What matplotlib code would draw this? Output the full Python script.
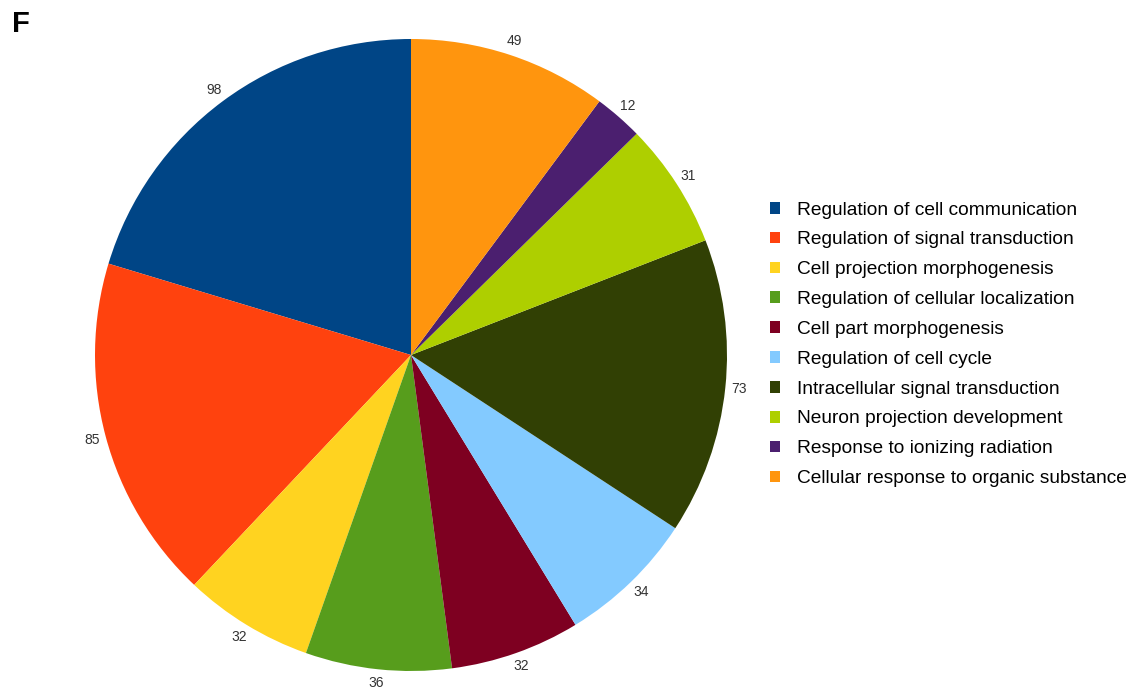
import numpy as np
import matplotlib.pyplot as plt

plt.rcParams['font.family'] = ['Liberation Sans', 'DejaVu Sans']

categories = [
    "Regulation of cell communication",
    "Regulation of signal transduction",
    "Cell projection morphogenesis",
    "Regulation of cellular localization",
    "Cell part morphogenesis",
    "Regulation of cell cycle",
    "Intracellular signal transduction",
    "Neuron projection development",
    "Response to ionizing radiation",
    "Cellular response to organic substance",
]
counts = [98, 85, 32, 36, 32, 34, 73, 31, 12, 49]
colors = ["#004586", "#ff420e", "#ffd320", "#579d1c", "#7e0021",
          "#83caff", "#314004", "#aecf00", "#4b1f6f", "#ff950e"]

W, H = 1137, 697
fig = plt.figure(figsize=(W / 100, H / 100), dpi=100)

# pie axes placed in pixel units
cx, cy, r = 411, 355, 316
ax = fig.add_axes([(cx - r) / W, (H - cy - r) / H, 2 * r / W, 2 * r / H])
wedges, _ = ax.pie(counts, colors=colors, startangle=90, counterclock=True,
                   radius=1.0, wedgeprops=dict(linewidth=0))
ax.set_xlim(-1, 1)
ax.set_ylim(-1, 1)
ax.set_aspect("equal")
ax.axis("off")

for w, n in zip(wedges, counts):
    ang = np.deg2rad((w.theta1 + w.theta2) / 2)
    ax.text(1.045 * np.cos(ang), 1.045 * np.sin(ang), str(n),
            ha="center", va="center", fontsize=10, color="#333333")

fig.text(12 / W, 1 - 24 / H, "F", fontsize=21, fontweight="bold",
         ha="left", va="center")

fig.legend(wedges, categories, loc="upper left",
           bbox_to_anchor=(760 / W, 1 - 192 / H), frameon=False,
           fontsize=13.8, handlelength=0.56, handleheight=0.56,
           handletextpad=0.86, labelspacing=0.67, borderpad=0)

fig.savefig("out.png", dpi=100)
